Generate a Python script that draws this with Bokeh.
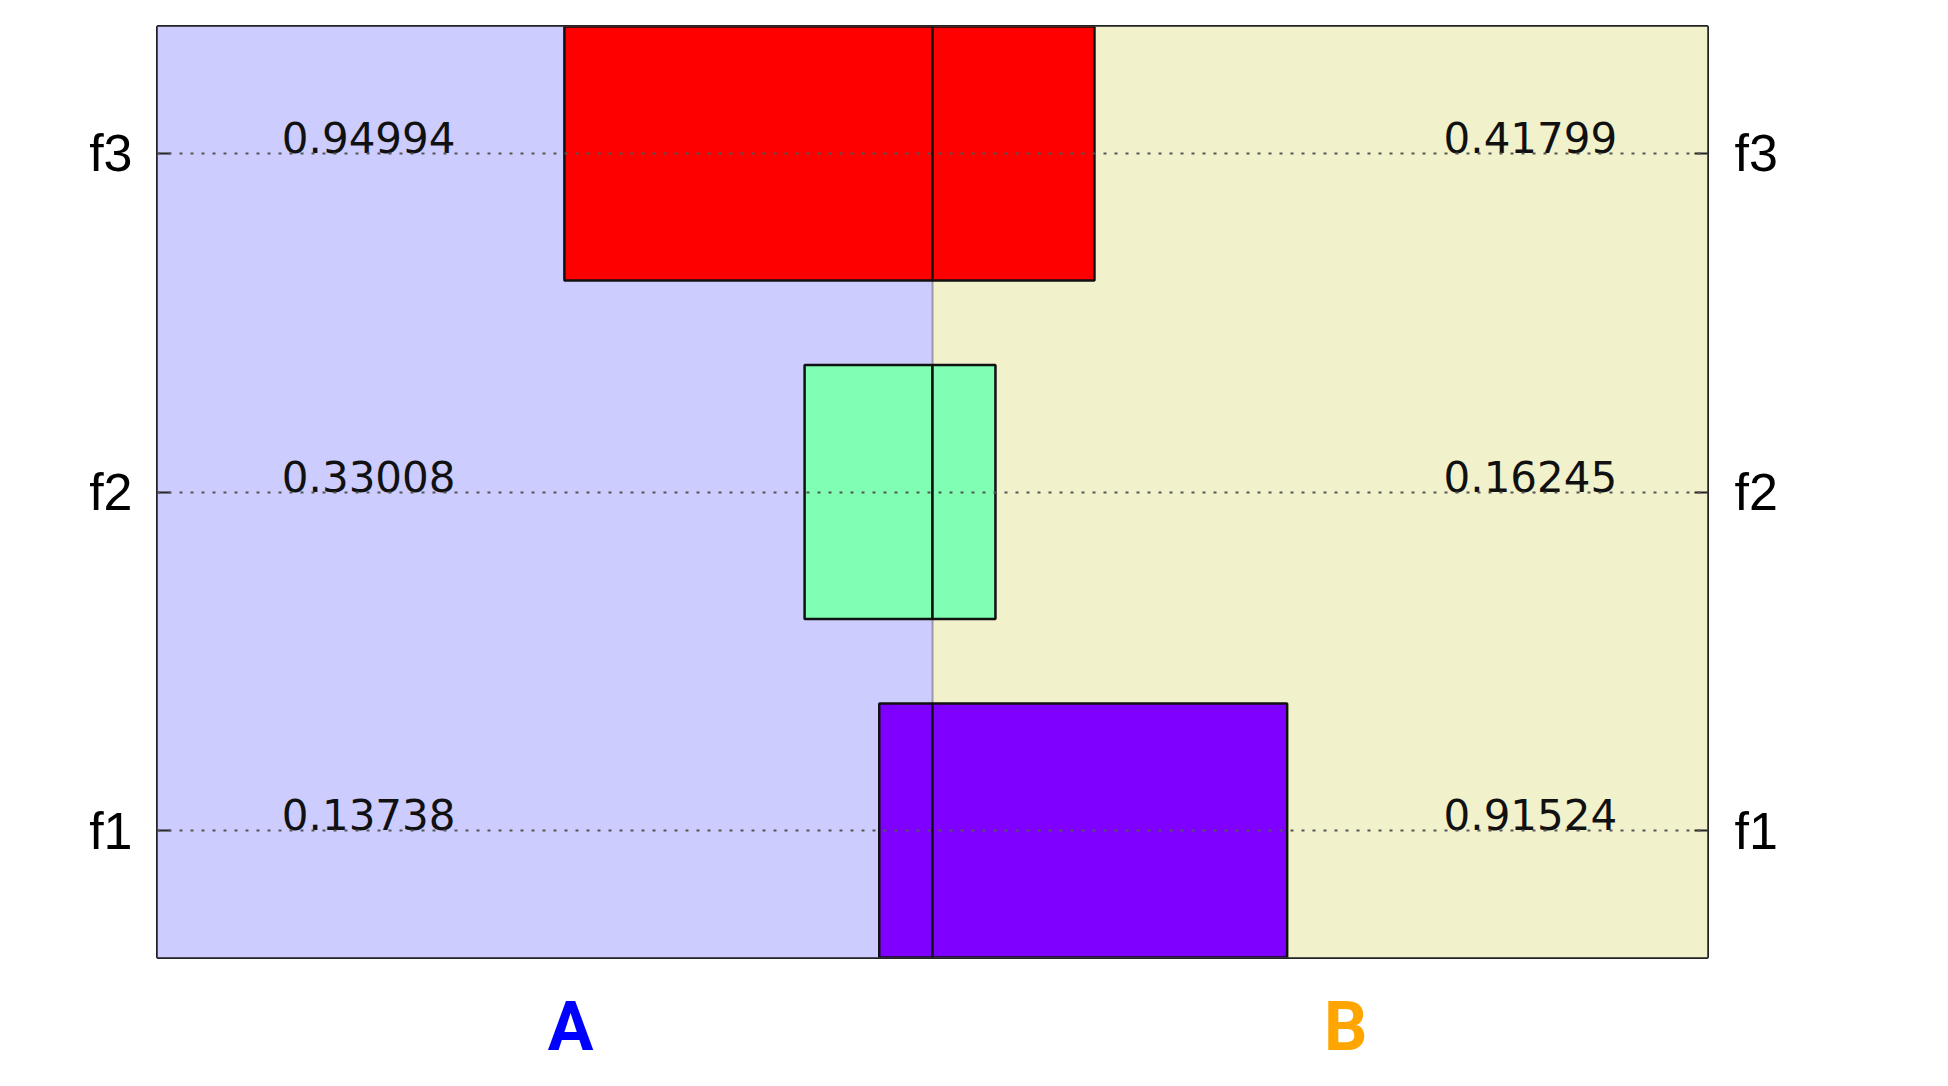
from bokeh.plotting import figure
from bokeh.layouts import column
from bokeh.models import (LinearAxis, FixedTicker, Grid, BoxAnnotation, Span)
from bokeh.core.properties import value
from bokeh.embed import file_html
from bokeh.resources import INLINE

# ---- data ----
features = ["f1", "f2", "f3"]
values_a = [0.13738, 0.33008, 0.94994]
values_b = [0.91524, 0.16245, 0.41799]
bar_colors = ["#8000FF", "#80FFB4", "#FF0000"]
group_names = ["A", "B"]
group_colors = ["#0000FF", "#FFA500"]
group_x = [-0.934, 1.066]

ys = list(range(len(features)))

p = figure(width=1940, height=960, x_range=(-2, 2), y_range=(-0.375, 2.375),
           output_backend="svg", toolbar_location=None,
           x_axis_location=None, y_axis_location=None,
           min_border_left=157, min_border_right=233,
           min_border_top=26, min_border_bottom=3)
p.background_fill_color = "white"
p.border_fill_color = "white"
p.outline_line_color = "#222222"
p.outline_line_width = 3
p.xgrid.visible = False
p.ygrid.visible = False

# half backgrounds
p.add_layout(BoxAnnotation(left=-2, right=0, fill_color="#CCCCFF", fill_alpha=1,
                           line_color=None, level="underlay"))
p.add_layout(BoxAnnotation(left=0, right=2, fill_color="#F1F1CB", fill_alpha=1,
                           line_color=None, level="underlay"))
p.add_layout(Span(location=0, dimension="height", line_color="#9a9aaa",
                  line_width=2, level="underlay"))

# bars
p.hbar(y=ys, left=[-v for v in values_a], right=0, height=0.75,
       fill_color=bar_colors, line_color="#111111", line_width=2.5)
p.hbar(y=ys, left=0, right=values_b, height=0.75,
       fill_color=bar_colors, line_color="#111111", line_width=2.5)

# value labels
p.text(x=-1.455, y=ys, text=[f"{v:.5f}" for v in values_a],
       text_align="center", text_baseline="middle", y_offset=-16,
       text_font=value("DejaVu Sans"), text_font_size="42px", text_color="#111111")
p.text(x=1.543, y=ys, text=[f"{v:.5f}" for v in values_b],
       text_align="center", text_baseline="middle", y_offset=-16,
       text_font=value("DejaVu Sans"), text_font_size="42px", text_color="#111111")

ticker = FixedTicker(ticks=ys)
overrides = {i: f for i, f in zip(ys, features)}

# dotted grid on top
p.add_layout(Grid(dimension=1, ticker=ticker, grid_line_dash="3 8",
                  grid_line_color="#555555", grid_line_width=2, level="overlay"))

for loc, standoff in (("left", 25), ("right", 27)):
    ax = LinearAxis(ticker=ticker, major_label_overrides=overrides,
                    major_tick_in=13, major_tick_out=0,
                    major_tick_line_width=2, major_tick_line_color="#222222",
                    minor_tick_line_color=None, axis_line_color=None,
                    major_label_standoff=standoff,
                    major_label_text_font="Liberation Sans",
                    major_label_text_font_size="52px",
                    major_label_text_color="black")
    p.add_layout(ax, loc)

# group labels in a strip below the chart, sharing the x range
q = figure(width=1940, height=120, x_range=p.x_range, y_range=(0, 1),
           output_backend="svg", toolbar_location=None,
           x_axis_location=None, y_axis_location=None,
           min_border_left=157, min_border_right=233,
           min_border_top=0, min_border_bottom=0)
q.outline_line_color = None
q.xgrid.visible = False
q.ygrid.visible = False
q.background_fill_color = "white"
q.border_fill_color = "white"
q.text(x=group_x, y=[0.45, 0.45], text=group_names, text_color=group_colors,
       text_align="center", text_baseline="middle",
       text_font=value("Roboto"), text_font_style="bold",
       text_font_size="68px")

layout = column(p, q, spacing=0)
open("out.html", "w").write(file_html(layout, INLINE))
